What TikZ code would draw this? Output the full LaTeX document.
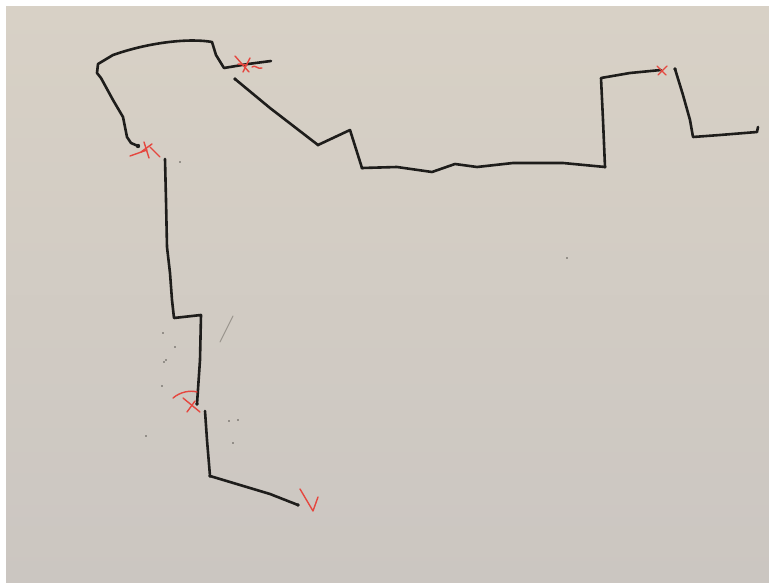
\documentclass[tikz,border=0pt]{standalone}
\definecolor{paper}{HTML}{D8D1C6}
\definecolor{paperlow}{HTML}{CBC6C1}
\definecolor{ink}{HTML}{1E1D1B}
\definecolor{redink}{HTML}{E5473F}
\definecolor{pencil}{HTML}{9A958E}
\begin{document}
\begin{tikzpicture}[x=1pt,y=-1pt,
  inkline/.style={draw=ink,line width=2.6pt,line cap=round,line join=round},
  redmark/.style={draw=redink,line width=1.4pt,line cap=round,line join=round},
  speck/.style={fill=ink!70!paper}]
\useasboundingbox (0,0) rectangle (769,583);
\fill[white] (0,0) rectangle (769,583);
\shade[top color=paper,bottom color=paperlow] (6,7) rectangle (769,583);
% loop at top left
\draw[inkline] (271,61) -- (248,64) -- (224,68) -- (216,55) -- (212,42)
  .. controls (190,38) and (150,42) .. (113,55) -- (98,64) -- (97,73) -- (101,78)
  -- (113,100) -- (123,117) -- (127,137) -- (131,143) -- (138,146);
\fill[ink] (138,146) circle (2.2pt);
% vertical descent
\draw[inkline] (165,159) -- (166,200) -- (167,247) -- (170,273) -- (172,300)
  -- (174,318) -- (201,315) -- (200,360) -- (197,404);
\fill[ink] (197,404) circle (1.8pt);
\draw[inkline] (205,411) -- (207,440) -- (210,476) -- (240,485) -- (270,494) -- (298,505);
\fill[ink] (298,505) circle (1.8pt);
\fill[ink] (210,476) circle (1.8pt);
% top right path
\draw[inkline] (235,79) -- (270,108) -- (318,145) -- (350,130) -- (362,168)
  -- (397,167) -- (432,172) -- (455,164) -- (477,167) -- (513,163) -- (563,163)
  -- (605,167) -- (603,120) -- (601,78) -- (630,73) -- (661,70);
\fill[ink] (235,79) circle (1.8pt);
\fill[ink] (318,145) circle (1.6pt);
\fill[ink] (362,168) circle (1.6pt);
\fill[ink] (605,167) circle (1.6pt);
\draw[inkline] (675,69) -- (683,95) -- (690,120) -- (693,137) -- (720,135) -- (757,132) -- (758,127);
\fill[ink] (675,69) circle (1.8pt);
% red crosses
\draw[redmark] (235,56) -- (249,72);
\draw[redmark] (250,58) -- (243,72);
\draw[redmark] (238,64) -- (247,65);
\draw[redmark] (252,67) .. controls (255,64) and (258,70) .. (262,68);
\draw[redmark] (130,156) -- (147,150);
\draw[redmark] (144,142) -- (149,158);
\draw[redmark] (150,147) -- (160,157);
\draw[redmark] (141,152) -- (152,144);
\draw[redmark] (183,398) -- (200,412);
\draw[redmark] (187,412) -- (195,401);
\draw[redmark] (173,398) .. controls (180,392) and (190,390) .. (197,392);
\draw[redmark] (657,66) -- (666,75);
\draw[redmark] (667,66) -- (658,75);
\draw[redmark] (300,489) -- (313,511) -- (318,497);
% pencil strokes and specks
\draw[pencil,line width=0.9pt,line cap=round] (220,342) -- (233,316);
\foreach \p in {(180,162),(567,258),(163,333),(175,347),(166,360),(162,386),(146,436),(229,421),(238,420),(233,443),(164,362)}
  \fill[speck] \p circle (0.9pt);
\end{tikzpicture}
\end{document}
